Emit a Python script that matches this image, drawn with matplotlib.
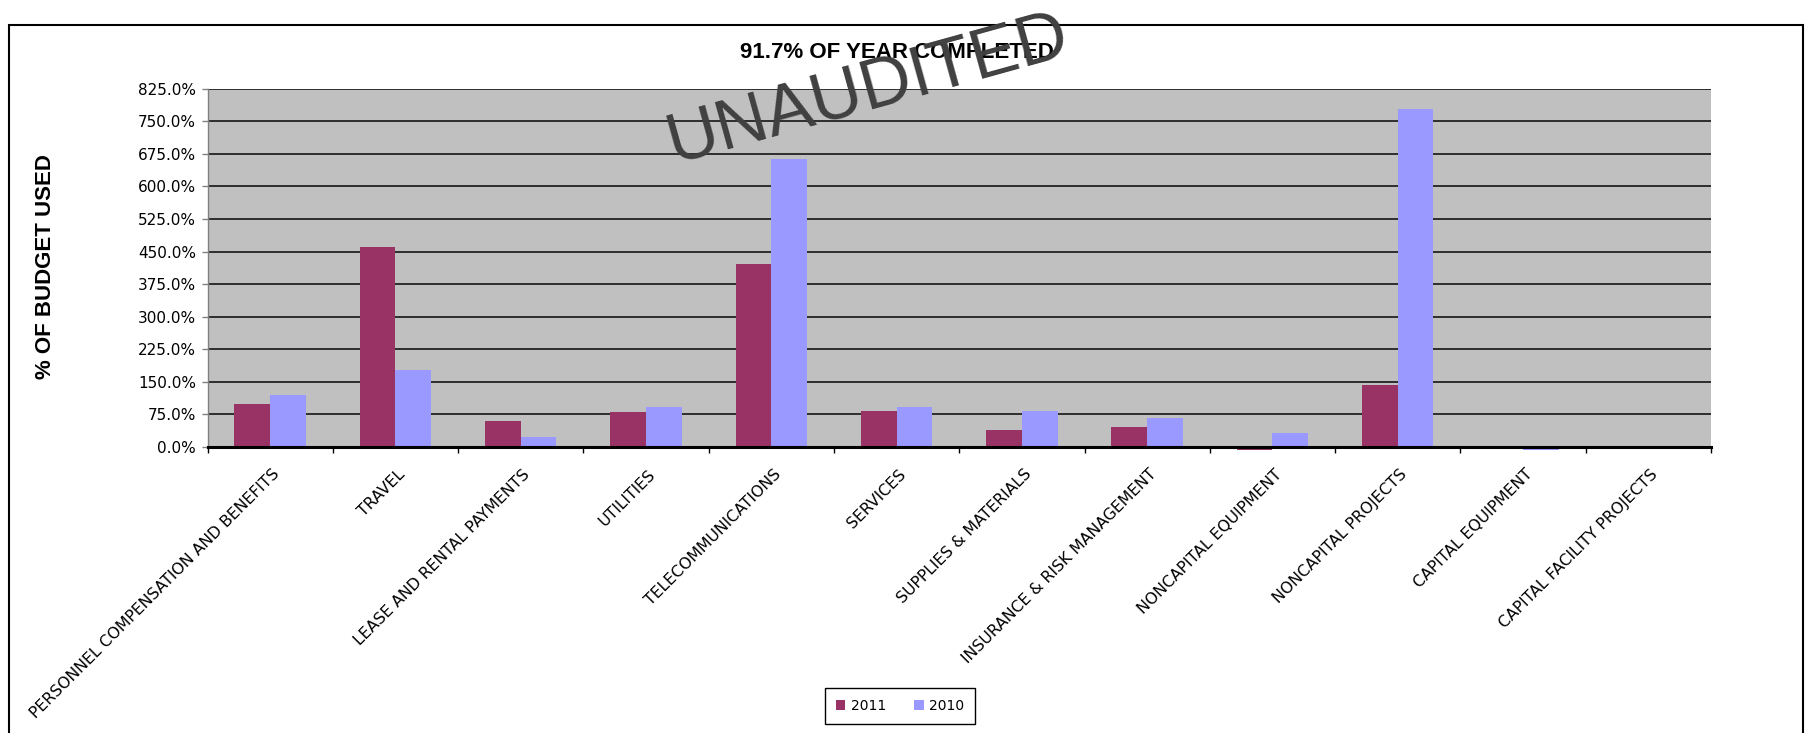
import matplotlib
matplotlib.use('Agg')
import matplotlib.pyplot as plt
import numpy as np
from matplotlib.patches import Rectangle
from matplotlib.transforms import ScaledTranslation

categories = [
    "PERSONNEL COMPENSATION AND BENEFITS",
    "TRAVEL",
    "LEASE AND RENTAL PAYMENTS",
    "UTILITIES",
    "TELECOMMUNICATIONS",
    "SERVICES",
    "SUPPLIES & MATERIALS",
    "INSURANCE & RISK MANAGEMENT",
    "NONCAPITAL EQUIPMENT",
    "NONCAPITAL PROJECTS",
    "CAPITAL EQUIPMENT",
    "CAPITAL FACILITY PROJECTS",
]
vals_2011 = [98.0, 460.0, 59.5, 80.0, 422.0, 83.0, 39.0, 45.0, -7.0, 142.0, 0.0, 0.0]
vals_2010 = [119.5, 177.0, 23.0, 93.0, 663.0, 93.0, 82.0, 66.0, 32.0, 779.0, -6.0, 0.0]
series_names = ["2011", "2010"]
y_ticks = [0, 75, 150, 225, 300, 375, 450, 525, 600, 675, 750, 825]
y_tick_labels = [f"{v:.1f}%" for v in y_ticks]
title = "91.7% OF YEAR COMPLETED"
ylabel = "% OF BUDGET USED"
watermark = "UNAUDITED"

W, H = 1807, 733
fig = plt.figure(figsize=(W / 100, H / 100), dpi=100)
fig.patch.set_facecolor('white')

ax = fig.add_axes([207.5 / W, 1 - 447 / H, (1711 - 207.5) / W, (447 - 88.7) / H])
ax.set_facecolor('#C0C0C0')

x = np.arange(len(categories))
w = 0.285
ax.bar(x - w / 2, vals_2011, w, color='#993366', label=series_names[0], clip_on=False, zorder=3)
ax.bar(x + w / 2, vals_2010, w, color='#9999FF', label=series_names[1], clip_on=False, zorder=3)

ax.set_xlim(-0.5, len(categories) - 0.5)
ax.set_ylim(0, 825)
ax.set_yticks(y_ticks)
ax.set_yticklabels(y_tick_labels, fontsize=11, family='DejaVu Sans')
ax.yaxis.grid(True, color='#151515', lw=1.2)
ax.set_axisbelow(True)

for s in ['top', 'right']:
    ax.spines[s].set_visible(False)
ax.spines['left'].set_color('#808080')
ax.spines['left'].set_linewidth(1.0)
ax.spines['bottom'].set_color('black')
ax.spines['bottom'].set_linewidth(2.2)
ax.spines['bottom'].set_zorder(4)

ax.tick_params(axis='y', length=4.3, width=1, color='#808080', pad=4)

# major ticks at category boundaries, labels at centres (minor)
ax.set_xticks(np.arange(-0.5, len(categories), 1.0))
ax.set_xticklabels([])
ax.tick_params(axis='x', which='major', length=4.3, width=1, color='black', direction='out')
ax.set_xticks(x, labels=categories, minor=True)
ax.tick_params(axis='x', which='minor', length=0, pad=18)
offset = ScaledTranslation(0.07, 0, fig.dpi_scale_trans)
for lab in ax.get_xticklabels(minor=True):
    lab.set_rotation(45)
    lab.set_ha('right')
    lab.set_va('center')
    lab.set_rotation_mode('anchor')
    lab.set_fontsize(11.3)
    lab.set_family('DejaVu Sans')
    lab.set_transform(lab.get_transform() + offset)

fig.text(897 / W, 1 - 52 / H, title, ha='center', va='center', fontsize=16,
         fontweight='bold', family='Liberation Sans')
fig.text(46 / W, 1 - 267 / H, ylabel, ha='center', va='center', rotation=90,
         fontsize=16, fontweight='bold', family='Liberation Sans')
fig.text(868 / W, 1 - 90 / H, watermark, ha='center', va='center', rotation=15.5,
         fontsize=51, color='#404040', family='Liberation Sans', zorder=10)

handles, labels = ax.get_legend_handles_labels()
leg = fig.legend(handles, labels, loc='center', bbox_to_anchor=(900 / W, 1 - 706 / H),
                 ncol=2, frameon=True, fancybox=False, edgecolor='black', framealpha=1,
                 prop={'family': 'DejaVu Sans', 'size': 10}, handlelength=0.7,
                 handleheight=0.7, columnspacing=2.0, borderpad=0.8, handletextpad=0.4)
leg.get_frame().set_linewidth(1.0)

fig.add_artist(Rectangle((9 / W, -0.01), (1803 - 9) / W, (1 - 25 / H) + 0.01,
                         transform=fig.transFigure, fill=False, lw=1.5, ec='black'))

fig.savefig('out.png', dpi=100)
